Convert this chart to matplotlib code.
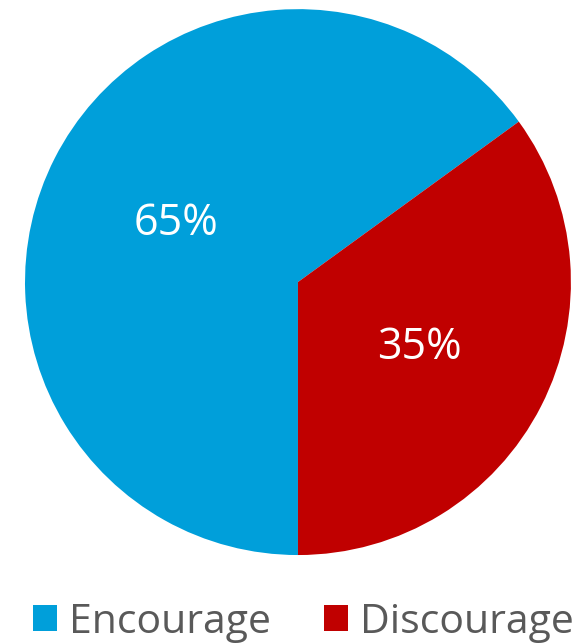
import matplotlib
matplotlib.use("Agg")
import matplotlib.pyplot as plt
from matplotlib.patches import Patch

categories = ["Encourage", "Discourage"]
values = [65, 35]
colors = ["#009FDA", "#C00000"]

plt.rcParams['font.family'] = ['Open Sans', 'DejaVu Sans']

fig = plt.figure(figsize=(5.87, 6.43), dpi=100)
ax = fig.add_axes([0.0426, 0.1368, 0.930, 0.849])
wedges, texts, autotexts = ax.pie(values, colors=colors, startangle=36, counterclock=True,
                                  autopct=lambda p: f"{p:.0f}%", pctdistance=0.5,
                                  wedgeprops=dict(linewidth=0),
                                  textprops=dict(color="white", fontsize=31))
for t in autotexts:
    x, y = t.get_position()
    t.set_position((x, y - 0.012))
ax.set_xlim(-1, 1)
ax.set_ylim(-1, 1)
ax.set_aspect('equal')

handles = [Patch(facecolor=c, edgecolor='none') for c in colors]
fig.legend(handles, categories, loc='center', bbox_to_anchor=(0.517, 0.032), ncol=2,
           frameon=False, fontsize=29.5, labelcolor="#595959", handlelength=0.58, handleheight=0.58,
           handletextpad=0.3, columnspacing=1.3)
fig.savefig("out.png", dpi=100)
